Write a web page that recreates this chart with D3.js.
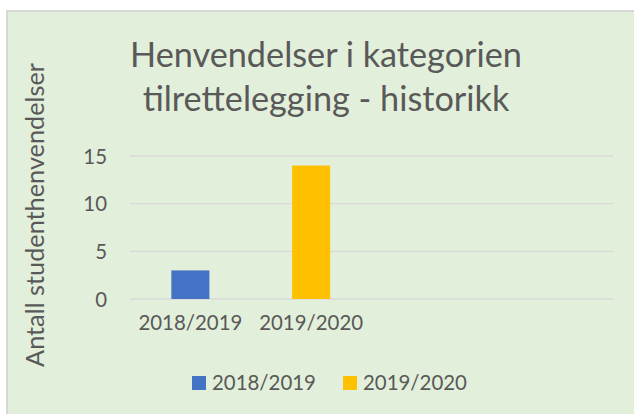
<!DOCTYPE html>
<html><head><meta charset="utf-8">
<script src="https://cdn.jsdelivr.net/npm/d3@7"></script>
<style>html,body{margin:0;padding:0;background:#fff;}</style>
</head><body>
<script>
const categories = ["2018/2019", "2019/2020", "", ""];
const seriesNames = ["2018/2019", "2019/2020"];
const seriesValues = [3, 14];
const seriesCategoryIndex = [0, 1];
const seriesColors = ["#4472C4", "#FFC000"];
const yTicks = [0, 5, 10, 15];
const titleLines = ["Henvendelser i kategorien", "tilrettelegging - historikk"];
const yTitle = "Antall studenthenvendelser";

const W = 634, H = 414;
const font = "Lato, 'Open Sans', sans-serif";
const txt = "#595959";
const svg = d3.select("body").append("svg").attr("width", W).attr("height", H);

svg.append("rect").attr("x", 7).attr("y", 11).attr("width", 660).attr("height", 420)
  .attr("fill", "#E2EFDA").attr("stroke", "#D0D0D0").attr("stroke-width", 1.6);

function fit(sel, target) {
  const w = sel.node().getComputedTextLength();
  const fs = parseFloat(sel.attr("font-size"));
  sel.attr("font-size", fs * target / w);
  return fs * target / w;
}

// measure base size for small text
const probe = svg.append("text").attr("font-family", font).attr("font-size", 20).text("2018/2019");
const smallFs = fit(probe, 104);
probe.remove();

// title
const t1 = svg.append("text").attr("x", 326).attr("y", 67).attr("text-anchor", "middle")
  .attr("font-family", font).attr("font-size", 30).attr("fill", txt).text(titleLines[0]);
fit(t1, 392);
const t2 = svg.append("text").attr("x", 326).attr("y", 111).attr("text-anchor", "middle")
  .attr("font-family", font).attr("font-size", t1.attr("font-size")).attr("fill", txt).text(titleLines[1]);

const x = d3.scaleBand().domain(d3.range(categories.length)).range([130, 613]).paddingInner(0).paddingOuter(0);
const y = d3.scaleLinear().domain([0, 15]).range([299, 156]);

// gridlines
svg.append("g").selectAll("line").data(yTicks).join("line")
  .attr("x1", 130).attr("x2", 613).attr("y1", d => y(d)).attr("y2", d => y(d))
  .attr("stroke", "#D9D9D9").attr("stroke-width", 1.3);

// y axis labels
const yAxis = svg.append("g").attr("transform", "translate(118,0)")
  .call(d3.axisLeft(y).tickValues(yTicks).tickSize(0).tickPadding(11));
yAxis.select(".domain").remove();
yAxis.selectAll("text").attr("font-family", font).attr("font-size", smallFs).attr("fill", txt).attr("dy", "0.35em");

// bars
const barW = x.bandwidth() * 0.315;
svg.append("g").selectAll("rect").data(seriesValues).join("rect")
  .attr("x", (d, i) => x(seriesCategoryIndex[i]) + x.bandwidth() / 2 - barW / 2)
  .attr("width", barW)
  .attr("y", d => y(d)).attr("height", d => y(0) - y(d))
  .attr("fill", (d, i) => seriesColors[i]);

// x axis labels
const xAxis = svg.append("g").attr("transform", "translate(0,299)")
  .call(d3.axisBottom(x).tickSize(0).tickPadding(24).tickFormat(i => categories[i]));
xAxis.select(".domain").remove();
xAxis.selectAll("text").attr("font-family", font).attr("font-size", smallFs).attr("fill", txt).attr("dy", "0.35em");

// y title
const yt = svg.append("text").attr("transform", "translate(44,215) rotate(-90)")
  .attr("text-anchor", "middle").attr("font-family", font).attr("font-size", 20).attr("fill", txt).text(yTitle);
fit(yt, 304);

// legend
const legX = [192, 343];
const leg = svg.append("g").selectAll("g").data(seriesNames).join("g")
  .attr("transform", (d, i) => `translate(${legX[i]},376)`);
leg.append("rect").attr("width", 14).attr("height", 14).attr("fill", (d, i) => seriesColors[i]);
leg.append("text").attr("x", 20).attr("y", 14).attr("font-family", font).attr("font-size", smallFs)
  .attr("fill", txt).text(d => d);
</script>
</body></html>
